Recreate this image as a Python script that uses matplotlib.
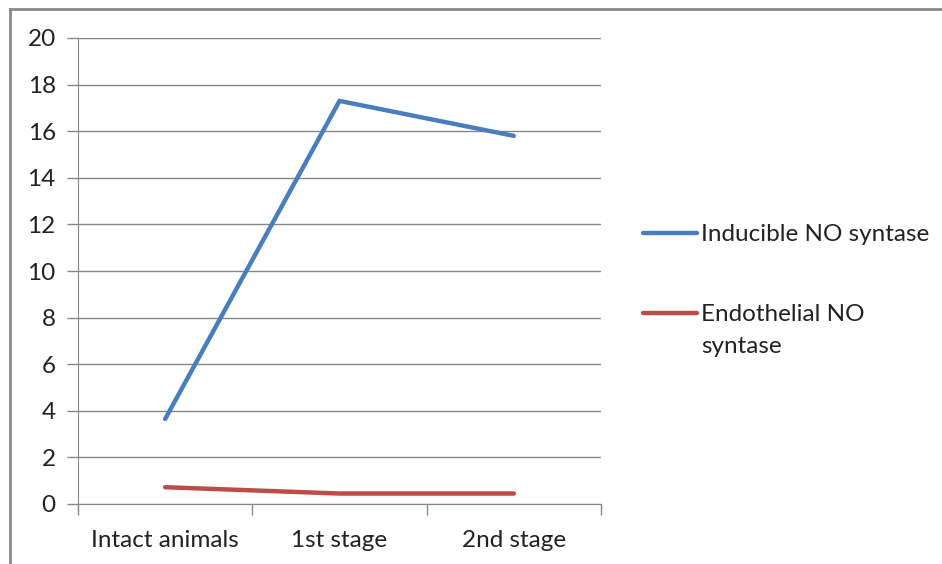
import matplotlib
matplotlib.use("Agg")
import matplotlib.pyplot as plt
from matplotlib.lines import Line2D

categories = ["Intact animals", "1st stage", "2nd stage"]
inducible = [3.65, 17.3, 15.8]
endothelial = [0.72, 0.45, 0.45]
series_names = ["Inducible NO syntase", "Endothelial NO\nsyntase"]
yticks = [0, 2, 4, 6, 8, 10, 12, 14, 16, 18, 20]

plt.rcParams['font.family'] = ['Lato', 'DejaVu Sans']

W, H = 942, 564
fig = plt.figure(figsize=(W / 100, H / 100), dpi=100)
ax = fig.add_axes([78 / W, 1 - 504 / H, (601 - 78) / W, (504 - 38) / H])

x = list(range(len(categories)))
blue = "#4A7EBB"
red = "#BE4B48"
grid_c = "#868686"
txt_c = "#222222"
fs = 17.5

l1, = ax.plot(x, inducible, color=blue, lw=3.2, solid_capstyle="round", solid_joinstyle="miter")
l2, = ax.plot(x, endothelial, color=red, lw=3.2, solid_capstyle="round")

ax.set_xlim(-0.5, len(categories) - 0.5)
ax.set_ylim(0, 20)
ax.set_yticks(yticks)
ax.set_yticklabels([str(v) for v in yticks], fontsize=fs, color=txt_c)
ax.set_xticks(x)
ax.set_xticklabels(categories, fontsize=fs, color=txt_c)
ax.tick_params(axis="x", length=0, pad=19)
ax.tick_params(axis="y", length=8, width=1, color=grid_c, pad=8)
ax.set_xticks([i - 0.5 for i in range(len(categories) + 1)], minor=True)
ax.tick_params(axis="x", which="minor", length=8, width=1, color=grid_c, direction="out")

ax.yaxis.grid(True, color=grid_c, lw=1)
ax.set_axisbelow(True)
for s in ["top", "right"]:
    ax.spines[s].set_visible(False)
ax.spines["left"].set_color(grid_c)
ax.spines["bottom"].set_color(grid_c)

# legend drawn manually in figure coordinates
leg_y = [233, 313]
for (line, name, yy) in zip([l1, l2], series_names, leg_y):
    fy = 1 - yy / H
    fig.add_artist(Line2D([643 / W, 697 / W], [fy, fy], transform=fig.transFigure,
                          color=line.get_color(), lw=3.2, solid_capstyle="round"))
    fig.text(701 / W, fy + 9 / H, name, fontsize=fs, color=txt_c, va="top",
             ha="left", linespacing=1.65, transform=fig.transFigure)

# figure border (left and top visible)
fig.add_artist(Line2D([10 / W, 10 / W], [0, 1 - 9 / H], transform=fig.transFigure, color="#888888", lw=2))
fig.add_artist(Line2D([10 / W, 1], [1 - 9 / H, 1 - 9 / H], transform=fig.transFigure, color="#888888", lw=2))

fig.savefig("out.png", dpi=100)
